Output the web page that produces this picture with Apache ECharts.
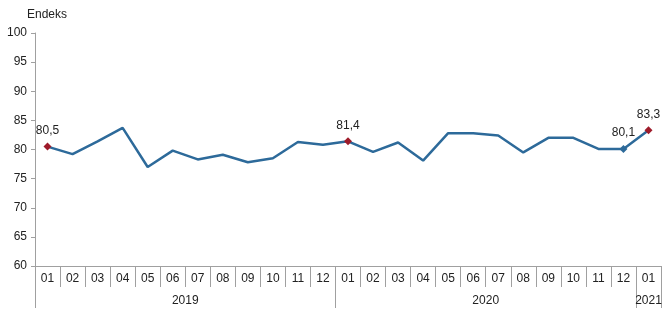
<!DOCTYPE html>
<html><head><meta charset="utf-8">
<script src="https://cdn.jsdelivr.net/npm/echarts@6/dist/echarts.min.js"></script>
<style>html,body{margin:0;padding:0;background:#fff}#c{width:668px;height:334px}</style>
</head><body><div id="c"></div>
<script>
var months = ['01','02','03','04','05','06','07','08','09','10','11','12','01','02','03','04','05','06','07','08','09','10','11','12','01'];
var values = [80.5,79.2,81.4,83.7,77.0,79.8,78.3,79.1,77.8,78.5,81.3,80.8,81.4,79.6,81.2,78.1,82.8,82.8,82.4,79.5,82.0,82.0,80.1,80.1,83.3];
var years = ['2019','2020','2021'];
var yearStarts = [0,12,24,25];
var yearCenters = [6,18,24.5];
var labeled = [0,12,23,24];
var markerColors = {0:'#9e1b2a',12:'#9e1b2a',23:'#2d6a9a',24:'#9e1b2a'};
var yTicks = [60,65,70,75,80,85,90,95,100];

var lineColor = '#2d6a9a';
var axisColor = '#a0a0a0';
var font = 'Liberation Sans, Arial, sans-serif';

var seriesData = values.map(function(v,i){
  if (labeled.indexOf(i) >= 0) {
    return {value:v, symbol:'diamond', symbolSize:8,
      itemStyle:{color:markerColors[i]},
      label:{show:true, position:'top', distance:6,
        formatter:function(p){return String(p.value.toFixed ? p.value.toFixed(1) : p.value).replace('.',',');},
        fontFamily:font, fontSize:12, color:'#222'}};
  }
  return {value:v, symbol:'none'};
});

var chart = echarts.init(document.getElementById('c'));
chart.setOption({
  animation:false,
  grid:{left:35, right:7, top:33, bottom:68},
  xAxis:[{
    type:'category', data:months, boundaryGap:true,
    axisLine:{show:true, lineStyle:{color:axisColor, width:1}},
    axisTick:{show:true, interval:0, length:21, lineStyle:{color:axisColor}},
    axisLabel:{interval:0, margin:7, fontFamily:font, fontSize:12, color:'#222'},
    splitLine:{show:false}
  },{
    type:'value', min:0, max:25, position:'bottom',
    axisLine:{show:false},
    axisTick:{show:true, customValues:yearStarts, length:42, lineStyle:{color:axisColor}},
    axisLabel:{show:true, customValues:yearCenters, margin:29, fontFamily:font, fontSize:12, color:'#222',
      formatter:function(v){ var i = yearCenters.indexOf(v); return i>=0 ? years[i] : ''; }},
    splitLine:{show:false}
  }],
  yAxis:{
    type:'value', min:yTicks[0], max:yTicks[yTicks.length-1], interval:5,
    name:'Endeks', nameLocation:'end', nameGap:12,
    nameTextStyle:{fontFamily:font, fontSize:12, color:'#222', align:'center', padding:[0,0,0,24]},
    axisLine:{show:true, lineStyle:{color:axisColor, width:1}},
    axisTick:{show:true, length:4, lineStyle:{color:axisColor}},
    axisLabel:{margin:8, fontFamily:font, fontSize:12, color:'#222'},
    splitLine:{show:false}
  },
  series:[{
    type:'line', xAxisIndex:0, data:seriesData, symbol:'none',
    lineStyle:{color:lineColor, width:2.5}, itemStyle:{color:lineColor},
    z:3
  }]
});
</script></body></html>
